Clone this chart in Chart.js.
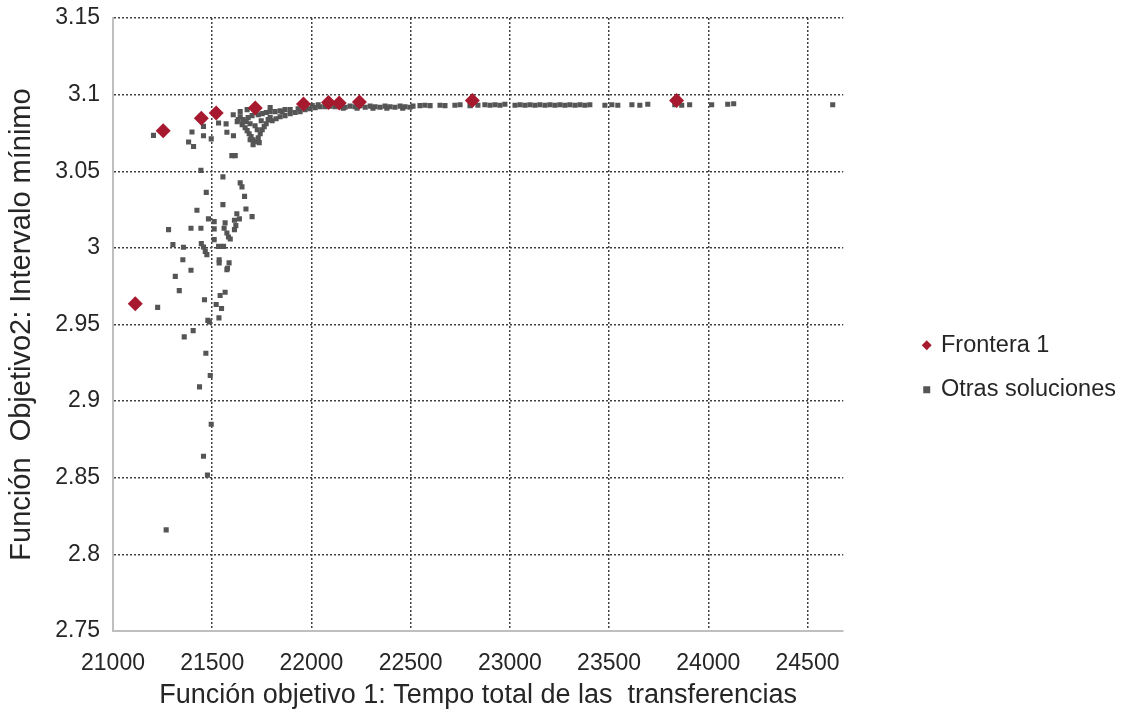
<!DOCTYPE html>
<html>
<head>
<meta charset="utf-8">
<script src="https://cdn.jsdelivr.net/npm/chart.js@4"></script>
<style>
  body { margin: 0; background: #fff; }
  #wrap { width: 1122px; height: 713px; }
</style>
</head>
<body>
<div id="wrap"><canvas id="myScatter" width="1122" height="713"></canvas></div>
<script>
// Frontera 1
const frontX = [21112, 21253, 21445, 21520, 21717, 21960, 22086, 22140, 22242, 22811, 23840];
const frontY = [2.9636, 3.0764, 3.0846, 3.0880, 3.0913, 3.0939, 3.0949, 3.0945, 3.0952, 3.0962, 3.0962];

// Otras soluciones
const otherX = [
    21204, 21398, 21381, 21406, 21456, 21456, 21495, 21532, 21570, 21574, 21607, 21599, 21616,
    21443, 21554, 21641, 21650, 21470, 21663, 21554, 21670, 21423, 21624, 21637, 21701, 21612,
    21481, 21510, 21565, 21280, 21393, 21443, 21510, 21619, 21560, 21612, 21574, 21582, 21591,
    21510, 21302, 21355, 21445, 21456, 21532, 21557, 21465, 21473, 21352, 21535, 21535, 21585,
    21577, 21393, 21574, 21314, 21334, 21565, 21540, 21461, 21520, 21547, 21225, 21534, 21478,
    21486, 21404, 21359, 21468, 21490, 21436, 21495, 21456, 21476, 21268,
    21626, 21656, 21681, 21701, 21732, 21752, 21772, 21792, 21817, 21842, 21867,
    21606, 21641, 21676, 21792,
    21651, 21666, 21676, 21686, 21696, 21706, 21706, 21721, 21732, 21742, 21752, 21762, 21772,
    21691, 21716, 21727, 21671, 21641, 21631, 21747, 21782, 21792, 21691, 21737,
    21802, 21822, 21842, 21867, 21893, 21918, 21943, 21968, 21993, 22019, 22044, 22069,
    21852, 21893, 21933, 21973, 22004, 22034,
    22094, 22119, 22145, 22170, 22195, 22220, 22245, 22271, 22296, 22321, 22346, 22371, 22396,
    22421, 22447, 22472, 22497, 22512, 22160, 22230, 22310, 22380, 22460,
    22547, 22572, 22598, 22648, 22673, 22723, 22749, 22799, 22839, 22874, 22900, 22925, 22950,
    22975, 23026, 23051, 23076, 23101, 23126, 23151, 23177, 23202, 23227, 23252, 23277, 23302,
    23328, 23353, 23378, 23403, 23479, 23514, 23544, 23615, 23655, 23695, 23831, 23866, 23906,
    24017, 24098, 24128, 24627
];
const otherY = [
    3.0734, 3.0756, 3.0691, 3.0662, 3.0793, 3.0732, 3.0711, 3.0815, 3.0809, 3.0754, 3.0732, 3.0602, 3.0602,
    3.0506, 3.0463, 3.0424, 3.0398, 3.0362, 3.0336, 3.0282, 3.0254, 3.0245, 3.0223, 3.0189, 3.0204, 3.0180,
    3.0189, 3.0171, 3.0163, 3.0119, 3.0128, 3.0128, 3.0124, 3.0145, 3.0128, 3.0119, 3.0097, 3.0071, 3.0058,
    3.0054, 3.0021, 3.0004, 3.0028, 3.0006, 3.0010, 3.0010, 2.9977, 2.9956, 2.9923, 2.9923, 2.9902, 2.9902,
    2.9867, 2.9854, 2.9858, 2.9814, 2.9721, 2.9710, 2.9689, 2.9662, 2.9630, 2.9604, 2.9612, 2.9543, 2.9527,
    2.9517, 2.9460, 2.9419, 2.9312, 2.9167, 2.9093, 2.8849, 2.8640, 2.8517, 2.8160,
    3.0824, 3.0837, 3.0850, 3.0863, 3.0869, 3.0876, 3.0883, 3.0889, 3.0889, 3.0895, 3.0902,
    3.0869, 3.0889, 3.0902, 3.0915,
    3.0804, 3.0784, 3.0765, 3.0745, 3.0726, 3.0706, 3.0674, 3.0693, 3.0719, 3.0745, 3.0771, 3.0791, 3.0810,
    3.0810, 3.0797, 3.0771, 3.0824, 3.0856, 3.0837, 3.0830, 3.0837, 3.0850, 3.0706, 3.0687,
    3.0830, 3.0843, 3.0856, 3.0863, 3.0876, 3.0883, 3.0889, 3.0902, 3.0908, 3.0915, 3.0921, 3.0921,
    3.0889, 3.0902, 3.0908, 3.0915, 3.0928, 3.0934,
    3.0925, 3.0921, 3.0928, 3.0918, 3.0925, 3.0921, 3.0928, 3.0918, 3.0925, 3.0921, 3.0918, 3.0925, 3.0921,
    3.0918, 3.0925, 3.0921, 3.0918, 3.0925, 3.0912, 3.0912, 3.0912, 3.0912, 3.0912,
    3.0928, 3.0931, 3.0928, 3.0931, 3.0928, 3.0931, 3.0934, 3.0928, 3.0931, 3.0934, 3.0931, 3.0934, 3.0931,
    3.0937, 3.0931, 3.0934, 3.0931, 3.0934, 3.0931, 3.0934, 3.0931, 3.0934, 3.0931, 3.0934, 3.0931, 3.0934,
    3.0931, 3.0934, 3.0931, 3.0934, 3.0931, 3.0934, 3.0931, 3.0934, 3.0931, 3.0937, 3.0934, 3.0931, 3.0934,
    3.0934, 3.0937, 3.0940, 3.0934
];

const xTicks = [21000, 21500, 22000, 22500, 23000, 23500, 24000, 24500];
const yTicks = [2.75, 2.8, 2.85, 2.9, 2.95, 3, 3.05, 3.1, 3.15];

const fontFamily = "'Liberation Sans', Arial, sans-serif";
const textColor = '#262626';
const gridColor = '#404040';
const axisColor = '#bfbfbf';

function toPoints(xs, ys) {
    return xs.map((x, i) => ({ x: x, y: ys[i] }));
}

// move the legend a bit to the right and down, like the original
const legendShift = {
    id: 'legendShift',
    afterLayout(chart) {
        const lg = chart.legend;
        lg.left += 60;
        lg.right += 60;
        lg.top += 2;
        lg.bottom += 2;
    }
};

var ctx = document.getElementById("myScatter");
var myScatter = new Chart(ctx, {
    type: 'scatter',
    data: {
        datasets: [{
            label: 'Frontera 1',
            data: toPoints(frontX, frontY),
            pointStyle: 'rectRot',
            pointRadius: 7.5,
            pointHoverRadius: 7.5,
            backgroundColor: '#a6192e',
            borderColor: '#a6192e',
            borderWidth: 0,
        }, {
            label: 'Otras soluciones',
            data: toPoints(otherX, otherY),
            pointStyle: 'rect',
            pointRadius: 3.6,
            pointHoverRadius: 3.6,
            backgroundColor: '#555555',
            borderColor: '#555555',
            borderWidth: 0,
        }],
    },
    options: {
        responsive: false,
        animation: false,
        layout: { autoPadding: false, padding: { top: 18, right: 56, bottom: 0, left: 0 } },
        plugins: {
            tooltip: { enabled: false },
            legend: {
                position: 'right',
                labels: {
                    usePointStyle: true,
                    boxWidth: 5,
                    boxHeight: 7,
                    padding: 21,
                    color: textColor,
                    font: { family: fontFamily, size: 23.5 },
                },
            },
        },
        scales: {
            x: {
                type: 'linear',
                min: 21000,
                max: 24680,
                afterBuildTicks: scale => {
                    scale.ticks = xTicks.map(v => ({ value: v }));
                },
                afterFit: scale => {
                    scale.height = 82;
                    scale.paddingLeft = 0;
                    scale.paddingRight = 0;
                },
                ticks: {
                    padding: 19,
                    color: textColor,
                    maxRotation: 0,
                    font: { family: fontFamily, size: 23 },
                    callback: v => String(v),
                },
                grid: {
                    drawTicks: false,
                    color: c => (c.tick && c.tick.value === 21000) ? 'rgba(0,0,0,0)' : gridColor,
                    lineWidth: 1.5,
                },
                border: { display: true, color: axisColor, width: 2, dash: [2, 2] },
                title: {
                    display: true,
                    text: 'Función objetivo 1: Tempo total de las  transferencias',
                    color: textColor,
                    font: { family: fontFamily, size: 27 },
                    padding: { top: 0, bottom: 1 },
                },
            },
            y: {
                min: 2.75,
                max: 3.15,
                afterBuildTicks: scale => {
                    scale.ticks = yTicks.map(v => ({ value: v }));
                },
                afterFit: scale => {
                    scale.width = 113;
                    scale.paddingTop = 0;
                    scale.paddingBottom = 0;
                },
                ticks: {
                    padding: 13,
                    color: textColor,
                    font: { family: fontFamily, size: 23 },
                    callback: v => String(+Number(v).toFixed(2)),
                },
                grid: {
                    drawTicks: false,
                    color: c => (c.tick && c.tick.value === 2.75) ? 'rgba(0,0,0,0)' : gridColor,
                    lineWidth: 1.5,
                },
                border: { display: true, color: axisColor, width: 2, dash: [2, 2] },
                title: {
                    display: true,
                    text: 'Función  Objetivo2: Intervalo mínimo',
                    color: textColor,
                    font: { family: fontFamily, size: 29 },
                    padding: { top: 5, bottom: 0 },
                },
            },
        },
    },
    plugins: [legendShift],
});
</script>
</body>
</html>
